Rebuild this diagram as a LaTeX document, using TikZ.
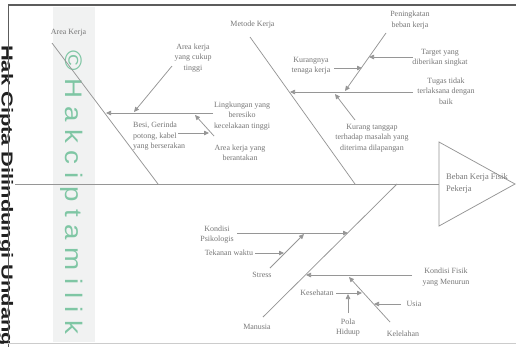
\documentclass[tikz,border=0pt]{standalone}
\usepackage{fontspec}
\setmainfont{Liberation Serif}
\newfontfamily\wmsans{Liberation Sans}
\usetikzlibrary{arrows.meta}
\definecolor{ln}{HTML}{969696}
\definecolor{tx}{HTML}{777777}
\definecolor{wm}{HTML}{7FC6A4}
\definecolor{band}{HTML}{F1F2F2}
\definecolor{framec}{HTML}{5C5C5C}
\begin{document}
\begin{tikzpicture}[x=1bp,y=1bp,
  lbl/.style={text=tx,font=\fontsize{8}{10.5}\selectfont,align=center,inner sep=0pt},
  bone/.style={draw=ln,line width=0.75bp},
  arr/.style={draw=ln,line width=0.75bp,-{Triangle[length=5bp,width=4.5bp]}}]
\useasboundingbox (0,0) rectangle (516,-347);
\fill[white] (0,0) rectangle (516,-347);
\fill[band] (53,-7) rectangle (95,-342);
% watermarks
\node[rotate=-90, anchor=base west, inner sep=0pt, text=wm, font=\wmsans\fontsize{24}{24}\selectfont] (wmA) at (65,-50) {\scalebox{1.16}[1]{© H a k c i p t a m i l i k}};
\node[rotate=-90, anchor=base west, inner sep=0pt, text=black!88, font=\wmsans\bfseries\fontsize{16}{16}\selectfont] (wmB) at (1.5,-45) {\scalebox{1.37}[1]{Hak Cipta Dilindungi Undang}};
% frame
\coordinate (fTL) at (8,-5); \coordinate (fTR) at (516,-5);
\coordinate (fV1) at (8.5,-4); \coordinate (fV2) at (8.5,-347);
\coordinate (fB1) at (4,-343.5); \coordinate (fB2) at (516,-343.5);
\draw[framec, line width=2.5bp] (fTL) -- (fTR);
\draw[framec, line width=1.5bp] (fV1) -- (fV2);
\draw[gray!40, line width=0.8bp] (fB1) -- (fB2);

% spine and head
\coordinate (spL) at (15,-184);
\coordinate (hL) at (439,-184);
\coordinate (hT) at (439,-142);
\coordinate (hB) at (439,-226);
\coordinate (hA) at (515,-184);
\draw[bone] (spL) -- (hL);
\draw[bone] (hT) -- (hA) -- (hB) -- cycle;
\node[lbl, align=left, anchor=west, font=\fontsize{8.5}{12}\selectfont] (head) at (446,-183) {Beban Kerja Fisik\\Pekerja};

% Area Kerja bone
\coordinate (akT) at (52,-43); \coordinate (akB) at (158,-184);
\draw[bone] (akT) -- (akB);
\node[lbl] (ak) at (68.5,-33) {Area Kerja};
\node[lbl] (ling) at (242,-116) {Lingkungan yang\\beresiko\\kecelakaan tinggi};
\coordinate (lingS) at (213,-113); \coordinate (lingE) at (106,-113);
\draw[arr] (lingS) -- (lingE);
\node[lbl] (cukup) at (193,-58) {Area kerja\\yang cukup\\tinggi};
\coordinate (cukS) at (172,-66); \coordinate (cukE) at (134,-112);
\draw[arr] (cukS) -- (cukE);
\node[lbl] (berant) at (240,-153) {Area kerja yang\\berantakan};
\coordinate (berS) at (214,-136); \coordinate (berE) at (195,-115);
\draw[arr] (berS) -- (berE);
\node[lbl, align=left, anchor=west] (besi) at (133,-136.5) {Besi, Gerinda\\potong, kabel\\yang berserakan};
\coordinate (besS) at (178,-133); \coordinate (besE) at (209,-133);
\draw[arr] (besS) -- (besE);

% Metode Kerja bone
\coordinate (mkT) at (250,-37); \coordinate (mkB) at (355,-184);
\draw[bone] (mkT) -- (mkB);
\node[lbl] (mk) at (252.5,-25) {Metode Kerja};
\node[lbl] (tugas) at (446,-91) {Tugas tidak\\terlaksana dengan\\baik};
\coordinate (tugS) at (413,-92); \coordinate (tugE) at (290,-92);
\draw[arr] (tugS) -- (tugE);
\node[lbl] (pen) at (410,-20) {Peningkatan\\beban kerja};
\coordinate (penS) at (386,-33); \coordinate (penE) at (345,-91);
\draw[arr] (penS) -- (penE);
\node[lbl] (target) at (440,-58) {Target yang\\diberikan singkat};
\coordinate (tarS) at (413,-57); \coordinate (tarE) at (369,-57);
\draw[arr] (tarS) -- (tarE);
\node[lbl] (kurang) at (311,-66) {Kurangnya\\tenaga kerja};
\coordinate (kurS) at (334,-68); \coordinate (kurE) at (362,-68);
\draw[arr] (kurS) -- (kurE);
\node[lbl] (tanggap) at (372,-138) {Kurang tanggap\\terhadap masalah yang\\diterima dilapangan};
\coordinate (tanS) at (355,-120); \coordinate (tanE) at (335,-94);
\draw[arr] (tanS) -- (tanE);

% Manusia bone
\coordinate (mnT) at (263,-317); \coordinate (mnB) at (397,-184);
\draw[bone] (mnT) -- (mnB);
\node[lbl] (mn) at (257,-327) {Manusia};
\node[lbl] (psi) at (217,-234.5) {Kondisi\\Psikologis};
\coordinate (psiS) at (237,-233); \coordinate (psiE) at (348,-233);
\draw[arr] (psiS) -- (psiE);
\node[lbl] (stress) at (262,-275) {Stress};
\coordinate (strS) at (270,-268); \coordinate (strE) at (304,-234);
\draw[arr] (strS) -- (strE);
\node[lbl] (tek) at (229,-253) {Tekanan waktu};
\coordinate (tekS) at (255,-253); \coordinate (tekE) at (284,-253);
\draw[arr] (tekS) -- (tekE);
\node[lbl] (fisik) at (446,-277) {Kondisi Fisik\\yang Menurun};
\coordinate (fisS) at (412,-275); \coordinate (fisE) at (306,-275);
\draw[arr] (fisS) -- (fisE);
\node[lbl] (lelah) at (403,-334) {Kelelahan};
\coordinate (lelS) at (390,-322); \coordinate (lelE) at (349,-277);
\draw[arr] (lelS) -- (lelE);
\node[lbl] (usia) at (414,-304) {Usia};
\coordinate (usiS) at (401,-304); \coordinate (usiE) at (374,-304);
\draw[arr] (usiS) -- (usiE);
\node[lbl] (sehat) at (317,-293) {Kesehatan};
\coordinate (sehS) at (336,-293); \coordinate (sehE) at (362,-293);
\draw[arr] (sehS) -- (sehE);
\node[lbl] (pola) at (348,-327.5) {Pola\\Hiduup};
\coordinate (polS) at (348,-313); \coordinate (polE) at (348,-294);
\draw[arr] (polS) -- (polE);
\end{tikzpicture}
\end{document}
